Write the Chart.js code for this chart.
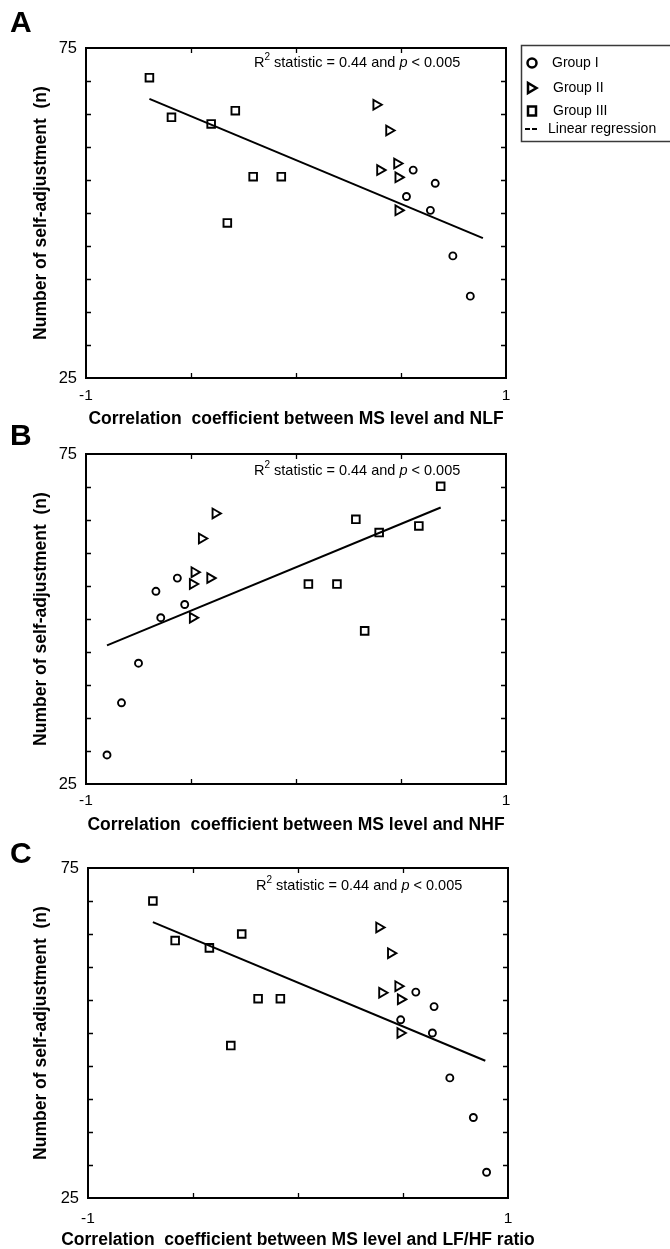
<!DOCTYPE html>
<html>
<head>
<meta charset="utf-8">
<script src="https://cdn.jsdelivr.net/npm/chart.js"></script>
<style>
  html, body { margin: 0; padding: 0; background: #fff; overflow: hidden; }
  #page { position: relative; width: 670px; height: 1249px; }
  canvas { position: absolute; left: 0; }
</style>
</head>
<body>
<div id="page">
  <canvas id="panelA" width="670" height="430"></canvas>
  <canvas id="panelB" width="670" height="430"></canvas>
  <canvas id="panelC" width="670" height="430"></canvas>
</div>
<script>
// Axis ends that carry a label
const xEnds = [-1, 1];
const yEnds = [25, 75];
const legendLabels = ['Group I', 'Group II', 'Group III', 'Linear regression'];
const xTitles = [
  'Correlation  coefficient between MS level and NLF',
  'Correlation  coefficient between MS level and NHF',
  'Correlation  coefficient between MS level and LF/HF ratio'
];
const yTitle = 'Number of self-adjustment  (n)';

// Panel A (NLF)
const a_g1_x = [0.558, 0.663, 0.526, 0.640, 0.747, 0.830];
const a_g1_y = [56.5, 54.5, 52.5, 50.4, 43.5, 37.4];
const a_g2_x = [0.382, 0.443, 0.400, 0.481, 0.487, 0.487];
const a_g2_y = [66.4, 62.5, 56.5, 57.5, 55.4, 50.4];
const a_g3_x = [-0.698, -0.593, -0.404, -0.289, -0.204, -0.070, -0.327];
const a_g3_y = [70.5, 64.5, 63.5, 65.5, 55.5, 55.5, 48.5];
const a_fit_x = [-0.698, 0.890];
const a_fit_y = [67.3, 46.2];

// Panel B (NHF)
const b_g1_x = [-0.900, -0.831, -0.750, -0.667, -0.644, -0.565, -0.530];
const b_g1_y = [29.4, 37.3, 43.3, 54.2, 50.2, 56.2, 52.2];
const b_g2_x = [-0.384, -0.449, -0.484, -0.409, -0.492, -0.492];
const b_g2_y = [66.0, 62.2, 57.1, 56.2, 55.3, 50.2];
const b_g3_x = [0.689, 0.285, 0.396, 0.585, 0.059, 0.195, 0.327];
const b_g3_y = [70.1, 65.1, 63.1, 64.1, 55.3, 55.3, 48.2];
const b_fit_x = [-0.900, 0.689];
const b_fit_y = [46.0, 66.9];

// Panel C (LF/HF ratio)
const c_g1_x = [0.561, 0.648, 0.489, 0.640, 0.723, 0.835, 0.898];
const c_g1_y = [56.2, 54.0, 52.0, 50.0, 43.2, 37.2, 28.9];
const c_g2_x = [0.386, 0.442, 0.400, 0.477, 0.489, 0.487];
const c_g2_y = [66.0, 62.1, 56.1, 57.1, 55.1, 50.0];
const c_g3_x = [-0.691, -0.585, -0.422, -0.268, -0.190, -0.084, -0.320];
const c_g3_y = [70.0, 64.0, 62.9, 65.0, 55.2, 55.2, 48.1];
const c_fit_x = [-0.691, 0.892];
const c_fit_y = [66.8, 45.8];

const FONT = "'Liberation Sans', Arial, Helvetica, sans-serif";
const TITLE_SIZE = 17.5;
Chart.defaults.font.family = FONT;
Chart.defaults.color = '#000';

function pts(xs, ys) {
  return xs.map((x, i) => ({ x: x, y: ys[i] }));
}

// frame, inward ticks, x title, panel letter, R^2 note and (panel A) the legend
const decorPlugin = {
  id: 'decor',
  afterDraw(chart, args, opts) {
    const ctx = chart.ctx;
    const a = chart.chartArea;
    const xs = chart.scales.x, ys = chart.scales.y;
    ctx.save();
    ctx.strokeStyle = '#000';
    ctx.lineWidth = 1.3;
    ctx.beginPath();
    xs.ticks.forEach(t => {
      if (t.value <= xs.min || t.value >= xs.max) return;
      const px = Math.round(xs.getPixelForValue(t.value)) + 0.5;
      ctx.moveTo(px, a.bottom); ctx.lineTo(px, a.bottom - 5);
      ctx.moveTo(px, a.top); ctx.lineTo(px, a.top + 5);
    });
    ys.ticks.forEach(t => {
      if (t.value <= ys.min || t.value >= ys.max) return;
      const py = Math.round(ys.getPixelForValue(t.value)) + 0.5;
      ctx.moveTo(a.left, py); ctx.lineTo(a.left + 5, py);
      ctx.moveTo(a.right, py); ctx.lineTo(a.right - 5, py);
    });
    ctx.stroke();
    ctx.lineWidth = 2;
    ctx.strokeRect(a.left, a.top, a.right - a.left, a.bottom - a.top);

    ctx.fillStyle = '#000';

    // x axis title (drawn here so long titles are not squeezed)
    ctx.font = 'bold ' + TITLE_SIZE + 'px ' + FONT;
    ctx.textAlign = 'center';
    ctx.textBaseline = 'middle';
    ctx.fillText(opts.xTitle, (a.left + a.right) / 2, opts.xTitleY);

    // panel letter
    ctx.font = 'bold 30px ' + FONT;
    ctx.textBaseline = 'alphabetic';
    ctx.textAlign = 'left';
    ctx.fillText(opts.letter, 10, opts.letterY);

    // R^2 statistic note
    let x = a.left + 168;
    const y = a.top + opts.noteDy;
    ctx.textBaseline = 'middle';
    const piece = (txt, font, dy) => {
      ctx.font = font;
      ctx.fillText(txt, x, y + dy);
      x += ctx.measureText(txt).width;
    };
    piece('R', '14.5px ' + FONT, 0);
    piece('2', '10px ' + FONT, -6);
    piece(' statistic = 0.44 and ', '14.5px ' + FONT, 0);
    piece('p', 'italic 14.5px ' + FONT, 0);
    piece(' < 0.005', '14.5px ' + FONT, 0);

    if (opts.legend) drawLegend(ctx);
    ctx.restore();
  }
};

function drawLegend(ctx) {
  ctx.save();
  ctx.strokeStyle = '#3a3a3a';
  ctx.lineWidth = 1.5;
  ctx.strokeRect(521.5, 45.5, 170, 96);

  ctx.strokeStyle = '#000';
  ctx.lineWidth = 2.5;
  // circle
  ctx.beginPath();
  ctx.arc(532, 63, 4.5, 0, Math.PI * 2);
  ctx.stroke();
  // triangle pointing right
  ctx.beginPath();
  ctx.moveTo(536.5, 88);
  ctx.lineTo(528, 83);
  ctx.lineTo(528, 93);
  ctx.closePath();
  ctx.stroke();
  // square
  ctx.strokeRect(528, 106.5, 8, 9);
  // dashes
  ctx.lineWidth = 2;
  ctx.beginPath();
  ctx.moveTo(525, 129); ctx.lineTo(530, 129);
  ctx.moveTo(532, 129); ctx.lineTo(537, 129);
  ctx.stroke();

  ctx.fillStyle = '#000';
  ctx.font = '14px ' + FONT;
  ctx.textBaseline = 'middle';
  ctx.textAlign = 'left';
  ctx.fillText(legendLabels[0], 552, 63);
  ctx.fillText(legendLabels[1], 553, 88);
  ctx.fillText(legendLabels[2], 553, 111);
  ctx.fillText(legendLabels[3], 548, 129);
  ctx.restore();
}

function makePanel(id, cfg) {
  const canvas = document.getElementById(id);
  const half = TITLE_SIZE * 0.6;
  const canvasH = Math.round(cfg.labelY + half + 2 - cfg.canvasTop);
  canvas.height = canvasH;
  canvas.style.top = cfg.canvasTop + 'px';
  const localTop = cfg.plotTop - cfg.canvasTop;
  const localBottom = cfg.plotBottom - cfg.canvasTop;

  const marker = {
    borderColor: '#000',
    backgroundColor: 'rgba(0,0,0,0)',
    borderWidth: 1.9,
    showLine: false
  };

  new Chart(canvas, {
    type: 'scatter',
    data: {
      datasets: [
        Object.assign({ label: legendLabels[0], data: pts(cfg.g1x, cfg.g1y),
          pointStyle: 'circle', pointRadius: 3.5 }, marker),
        Object.assign({ label: legendLabels[1], data: pts(cfg.g2x, cfg.g2y),
          pointStyle: 'triangle', pointRotation: 90, pointRadius: 5.6 }, marker),
        Object.assign({ label: legendLabels[2], data: pts(cfg.g3x, cfg.g3y),
          pointStyle: 'rect', pointRadius: 5.4 }, marker),
        { label: legendLabels[3], data: pts(cfg.fitx, cfg.fity), showLine: true,
          borderColor: '#000', borderWidth: 2, pointRadius: 0, fill: false }
      ]
    },
    options: {
      responsive: false,
      animation: false,
      devicePixelRatio: 1,
      layout: { padding: { top: localTop, right: 670 - cfg.plotRight, bottom: 0, left: 0 } },
      plugins: {
        legend: { display: false },
        tooltip: { enabled: false },
        decor: { letter: cfg.letter, letterY: cfg.letterY - cfg.canvasTop,
                 noteDy: cfg.noteDy, legend: cfg.legend,
                 xTitle: cfg.xTitle, xTitleY: cfg.labelY - cfg.canvasTop }
      },
      scales: {
        x: {
          type: 'linear', min: -1, max: 1,
          grid: { display: false, drawTicks: false },
          border: { display: false },
          ticks: {
            stepSize: 0.5, autoSkip: false, maxRotation: 0, padding: cfg.tickPad,
            font: { size: 15.5 },
            callback: v => xEnds.includes(v) ? String(v) : ''
          },
          title: { display: false },
          afterFit: s => { s.height = canvasH - localBottom; }
        },
        y: {
          type: 'linear', min: 25, max: 75,
          grid: { display: false, drawTicks: false },
          border: { display: false },
          ticks: {
            stepSize: 5, autoSkip: false, padding: 9,
            font: { size: 16.5 },
            callback: v => yEnds.includes(v) ? String(v) : ''
          },
          title: { display: true, text: yTitle, color: '#000',
                   font: { size: TITLE_SIZE, weight: 'bold' }, padding: { top: 41.5 - half, bottom: 0 } },
          afterFit: s => { s.width = cfg.plotLeft; }
        }
      }
    },
    plugins: [decorPlugin]
  });
}

makePanel('panelA', {
  letter: 'A', letterY: 32, canvasTop: 0, plotTop: 48, plotBottom: 378,
  plotLeft: 86, plotRight: 506, labelY: 419, tickPad: 8, noteDy: 15, legend: true,
  xTitle: xTitles[0],
  g1x: a_g1_x, g1y: a_g1_y, g2x: a_g2_x, g2y: a_g2_y, g3x: a_g3_x, g3y: a_g3_y,
  fitx: a_fit_x, fity: a_fit_y
});
makePanel('panelB', {
  letter: 'B', letterY: 445, canvasTop: 415, plotTop: 454, plotBottom: 784,
  plotLeft: 86, plotRight: 506, labelY: 825, tickPad: 7, noteDy: 17, legend: false,
  xTitle: xTitles[1],
  g1x: b_g1_x, g1y: b_g1_y, g2x: b_g2_x, g2y: b_g2_y, g3x: b_g3_x, g3y: b_g3_y,
  fitx: b_fit_x, fity: b_fit_y
});
makePanel('panelC', {
  letter: 'C', letterY: 863, canvasTop: 835, plotTop: 868, plotBottom: 1198,
  plotLeft: 88, plotRight: 508, labelY: 1240, tickPad: 11, noteDy: 18, legend: false,
  xTitle: xTitles[2],
  g1x: c_g1_x, g1y: c_g1_y, g2x: c_g2_x, g2y: c_g2_y, g3x: c_g3_x, g3y: c_g3_y,
  fitx: c_fit_x, fity: c_fit_y
});
</script>
</body>
</html>
